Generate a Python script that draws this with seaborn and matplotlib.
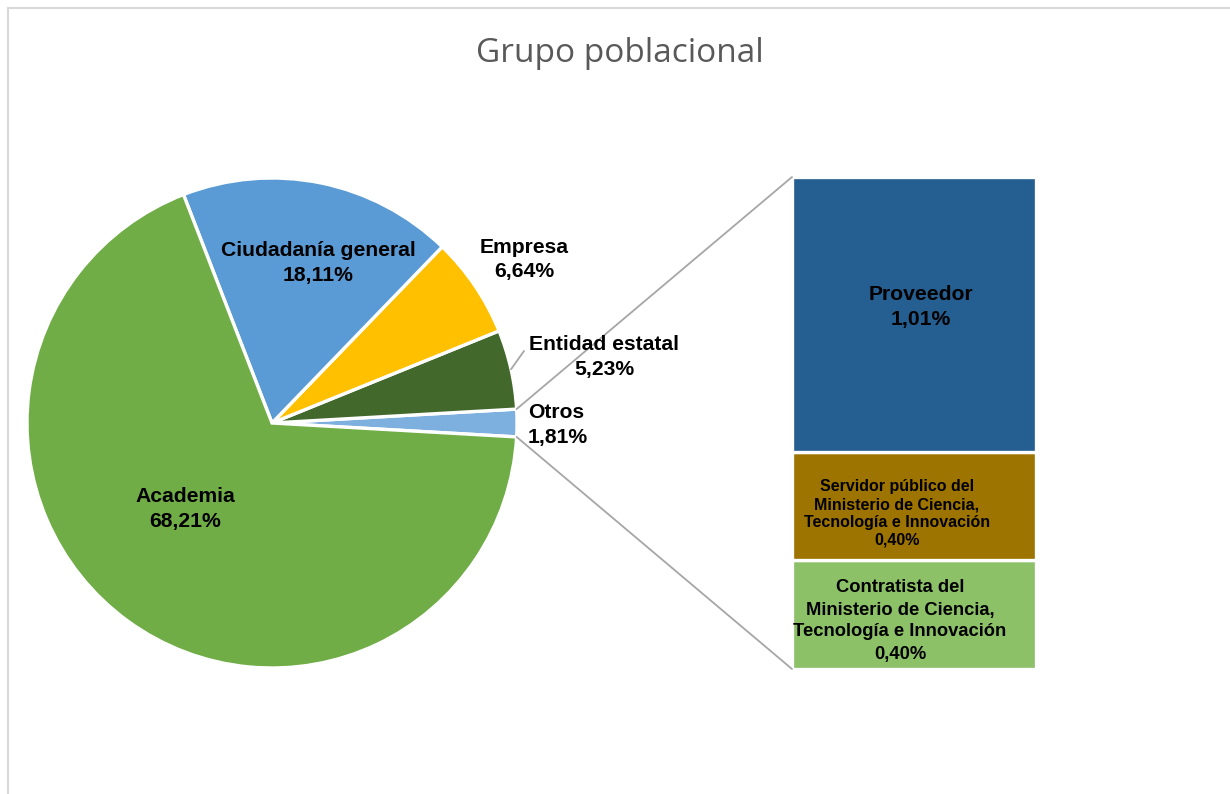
import numpy as np
import matplotlib
matplotlib.use("Agg")
import matplotlib.pyplot as plt
from matplotlib.patches import ConnectionPatch, Rectangle
import seaborn as sns

# ---------------- data ----------------
title = "Grupo poblacional"
pie_labels = ["Otros", "Entidad estatal", "Empresa", "Ciudadanía general", "Academia"]
pie_values = [1.81, 5.23, 6.64, 18.11, 68.21]
pie_colors = ["#7EB0DF", "#43682B", "#FFC000", "#5B9BD5", "#70AD47"]

bar_labels = ["Contratista del\nMinisterio de Ciencia,\nTecnología e Innovación",
              "Servidor público del\nMinisterio de Ciencia,\nTecnología e Innovación",
              "Proveedor"]
bar_values = [0.40, 0.40, 1.01]
bar_colors = ["#8CC168", "#9E7400", "#255E91"]

def fmt(v):
    return f"{v:.2f}".replace(".", ",") + "%"

# ---------------- figure ----------------
sns.set_theme(style="white")
plt.rcParams["font.family"] = ["Liberation Sans", "DejaVu Sans"]
W, H = 1230, 794
fig = plt.figure(figsize=(W / 100, H / 100), dpi=100)
fig.patch.set_facecolor("white")

def px(x, y):
    return (x / W, 1 - y / H)

# outer frame
fig.patches.append(Rectangle(px(8, 900), (W + 50) / W, (900 - 8) / H,
                             transform=fig.transFigure, fill=False,
                             edgecolor="#D9D9D9", linewidth=1.5, zorder=0))

# title
fig.text(*px(620, 53), title, ha="center", va="center", fontsize=24,
         color="#595959", family=["Open Sans", "DejaVu Sans"])

# ---------------- pie ----------------
cx, cy, r = 272, 423, 245
ax_pie = fig.add_axes([(cx - r) / W, (H - cy - r) / H, 2 * r / W, 2 * r / H])
start = -pie_values[0] / 100 * 360 / 2
wedges, _ = ax_pie.pie(pie_values, colors=pie_colors, startangle=start,
                       counterclock=True, radius=1,
                       wedgeprops=dict(edgecolor="white", linewidth=2.4))
ax_pie.set_xlim(-1, 1)
ax_pie.set_ylim(-1, 1)
ax_pie.set_aspect("auto")
ax_pie.axis("off")

# pie labels
lab_pos = {
    "Otros": (528, 413, "left"),
    "Entidad estatal": (604, 344, "center"),
    "Empresa": (524, 247, "center"),
    "Ciudadanía general": (318, 250, "center"),
    "Academia": (185, 496, "center"),
}
for lab, val in zip(pie_labels, pie_values):
    x, y, ha = lab_pos[lab]
    fig.text(*px(x, y), lab, ha=ha, va="center", fontsize=15.2,
             fontweight="bold", color="black")
    fig.text(*px(x, y + 25), fmt(val), ha=ha, va="center", fontsize=15.2,
             fontweight="bold", color="black")

# leader line for Entidad estatal
w_ent = wedges[1]
mid = np.deg2rad((w_ent.theta1 + w_ent.theta2) / 2)
con = ConnectionPatch(xyA=(np.cos(mid), np.sin(mid)), coordsA=ax_pie.transData,
                      xyB=px(524, 351), coordsB=fig.transFigure,
                      color="#A6A6A6", linewidth=1.3)
fig.add_artist(con)

# ---------------- bar ----------------
bx0, bx1, by0, by1 = 792, 1036, 177, 669
ax_bar = fig.add_axes([bx0 / W, (H - by1) / H, (bx1 - bx0) / W, (by1 - by0) / H])
bottoms = np.concatenate([[0], np.cumsum(bar_values)[:-1]])
ax_bar.bar([0] * len(bar_values), bar_values, bottom=bottoms, width=1.0,
           color=bar_colors, edgecolor="white", linewidth=2.4)
total = sum(bar_values)
ax_bar.set_xlim(-0.5, 0.5)
ax_bar.set_ylim(0, total)
ax_bar.axis("off")

bar_text = {
    "Proveedor": (921, 295, 15.2, 25),
    "Servidor público del\nMinisterio de Ciencia,\nTecnología e Innovación": (897, 487, 11.5, 17.6),
    "Contratista del\nMinisterio de Ciencia,\nTecnología e Innovación": (900, 588, 13.2, 22),
}
for lab, val in zip(bar_labels, bar_values):
    x, y, fs, ls = bar_text[lab]
    lines = lab.split("\n") + [fmt(val)]
    for i, line in enumerate(lines):
        fig.text(*px(x, y + i * ls), line, ha="center", va="center",
                 fontsize=fs, fontweight="bold", color="black")

# connector lines from Otros slice to bar
w_ot = wedges[0]
for ang, yb in [(w_ot.theta2, total), (w_ot.theta1, 0)]:
    a = np.deg2rad(ang)
    c = ConnectionPatch(xyA=(np.cos(a), np.sin(a)), coordsA=ax_pie.transData,
                        xyB=(-0.5, yb), coordsB=ax_bar.transData,
                        color="#A6A6A6", linewidth=1.3)
    fig.add_artist(c)

fig.savefig("out.png", dpi=100, facecolor="white")
